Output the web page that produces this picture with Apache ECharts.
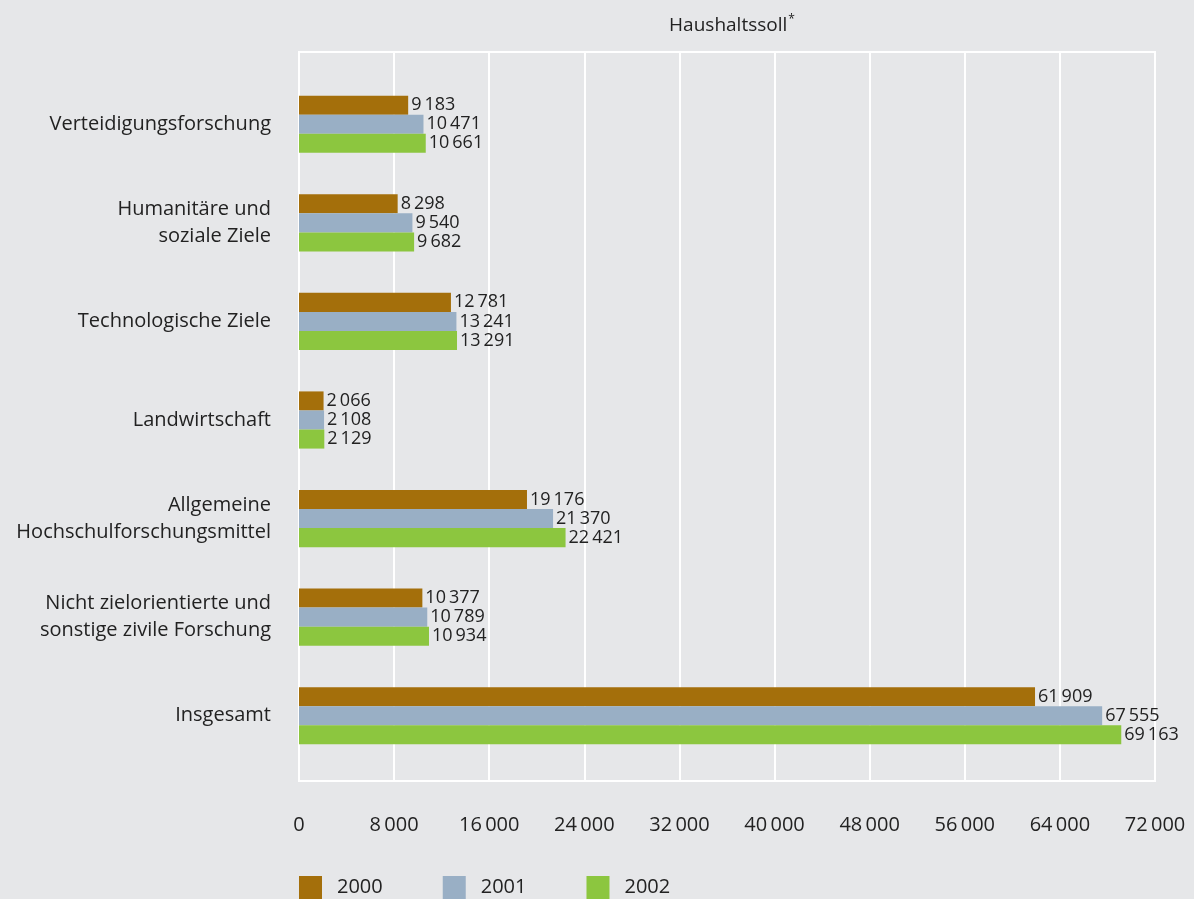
<!DOCTYPE html>
<html>
<head>
<meta charset="utf-8">
<script src="https://cdn.jsdelivr.net/npm/echarts@6/dist/echarts.min.js"></script>
<style>
  html, body { margin: 0; padding: 0; background: #e6e7e9; }
  #chart { width: 1194px; height: 899px; }
</style>
</head>
<body>
<div id="chart"></div>
<script>
// Research spending by objective (Haushaltssoll), values in the table unit
const categories = [
  'Verteidigungsforschung',
  'Humanitäre und\nsoziale Ziele',
  'Technologische Ziele',
  'Landwirtschaft',
  'Allgemeine\nHochschulforschungsmittel',
  'Nicht zielorientierte und\nsonstige zivile Forschung',
  'Insgesamt'
];
const years = ['2000', '2001', '2002'];
const values2000 = [9183, 8298, 12781, 2066, 19176, 10377, 61909];
const values2001 = [10471, 9540, 13241, 2108, 21370, 10789, 67555];
const values2002 = [10661, 9682, 13291, 2129, 22421, 10934, 69163];
const xTicks = [0, 8000, 16000, 24000, 32000, 40000, 48000, 56000, 64000, 72000];
const colors = ['#a46f0b', '#99afc5', '#8cc63f'];

const FONT = '"Open Sans", "Noto Sans", sans-serif';
const TEXT = '#222222';

// German number style with a thin gap as thousands separator
function fmt(v) {
  return String(v).replace(/\B(?=(\d{3})+(?!\d))/g, '\u2009');
}

const seriesData = [values2000, values2001, values2002];

const chart = echarts.init(document.getElementById('chart'));
chart.setOption({
  backgroundColor: '#e6e7e9',
  animation: false,
  textStyle: { fontFamily: FONT, color: TEXT },
  title: {
    text: '{t|Haushaltssoll}{s|*}',
    left: 727,
    top: 9,
    textAlign: 'center',
    textStyle: {
      fontWeight: 'normal',
      rich: {
        t: { fontFamily: FONT, fontSize: 19, fontWeight: 'normal', color: TEXT },
        s: { fontFamily: FONT, fontSize: 12, fontWeight: 'normal', color: TEXT, verticalAlign: 'top', padding: [0, 0, 12, 1] }
      }
    }
  },
  legend: {
    data: years,
    left: 299,
    top: 876,
    padding: 0,
    itemWidth: 23,
    itemHeight: 23,
    itemGap: 60,
    icon: 'rect',
    textStyle: { fontFamily: FONT, fontSize: 20, color: TEXT, padding: [0, 0, 0, 10] }
  },
  grid: [
    // frame with the value gridlines
    { left: 299, right: 39, top: 52, bottom: 118, show: true, borderColor: '#ffffff', borderWidth: 2, backgroundColor: 'transparent' },
    // bars
    { left: 299, right: 39, top: 75, bottom: 134 }
  ],
  xAxis: [
    {
      gridIndex: 0,
      type: 'value',
      min: xTicks[0],
      max: xTicks[xTicks.length - 1],
      interval: xTicks[1] - xTicks[0],
      axisLine: { show: false },
      axisTick: { show: false },
      splitLine: { show: true, lineStyle: { color: '#ffffff', width: 2 } },
      axisLabel: { margin: 34, fontFamily: FONT, fontSize: 20, color: TEXT, formatter: fmt }
    },
    {
      gridIndex: 1,
      type: 'value',
      min: xTicks[0],
      max: xTicks[xTicks.length - 1],
      show: false
    }
  ],
  yAxis: [
    { gridIndex: 0, type: 'value', show: false },
    {
      gridIndex: 1,
      type: 'category',
      data: categories,
      inverse: true,
      axisLine: { show: false },
      axisTick: { show: false },
      axisLabel: { margin: 28, fontFamily: FONT, fontSize: 20, color: TEXT, lineHeight: 27, align: 'right' }
    }
  ],
  series: years.map((y, i) => ({
    name: y,
    type: 'bar',
    xAxisIndex: 1,
    yAxisIndex: 1,
    data: seriesData[i],
    itemStyle: { color: colors[i] },
    barGap: '0%',
    barCategoryGap: '42%',
    label: {
      show: true,
      position: 'right',
      distance: 3,
      fontFamily: FONT,
      fontSize: 18,
      color: TEXT,
      formatter: p => fmt(p.value)
    }
  }))
});
</script>
</body>
</html>
